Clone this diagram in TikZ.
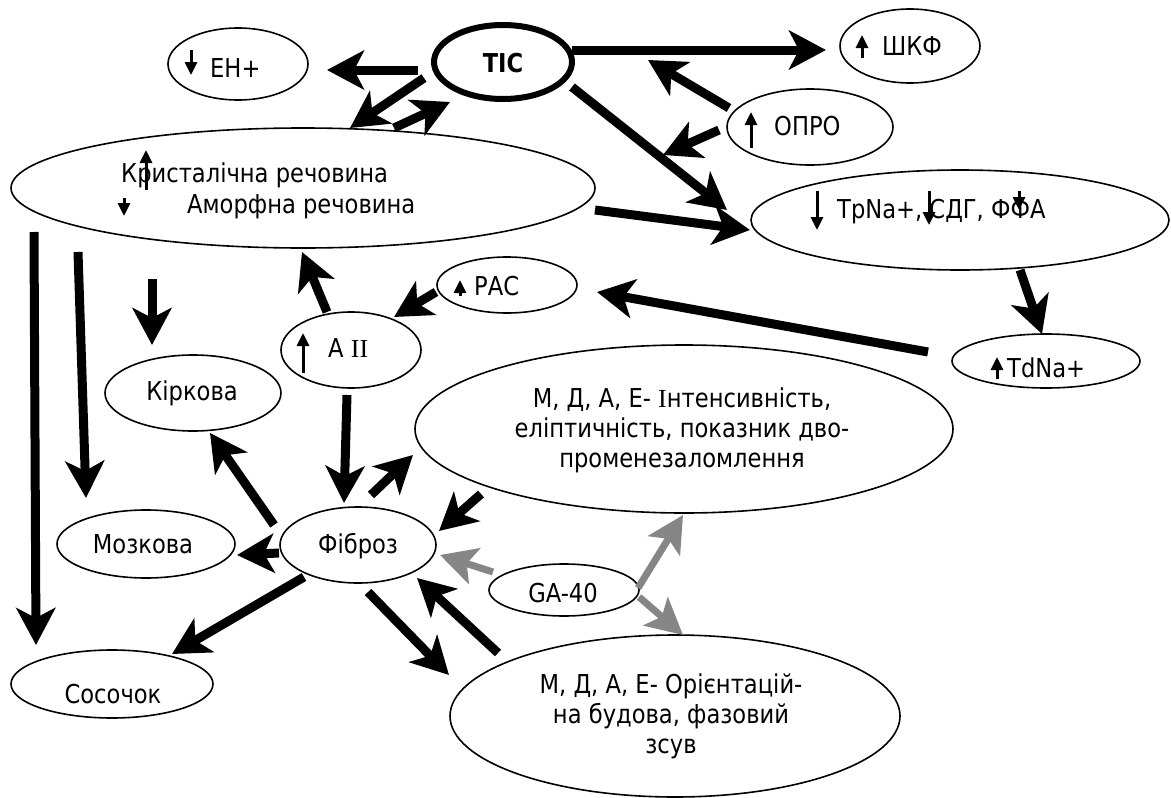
\documentclass[tikz,border=0pt]{standalone}
\usepackage{fontspec}
\setmainfont{DejaVu Sans}[FakeStretch=0.87]
\newfontfamily\romfont{Liberation Serif}
\usepackage{tikz}
\usetikzlibrary{arrows.meta, shapes.geometric}
\definecolor{ArrowGray}{HTML}{868686}
\newcommand{\diagfont}{\fontsize{26}{30}\selectfont}
\tikzset{
  % Oval styles
  oval/.style={ellipse, draw, line width=1.6pt, inner sep=0pt},
  keyoval/.style={oval, line width=6pt},
  % Label styles
  lbl/.style={inner sep=0pt, font=\diagfont, anchor=base west},
  clbl/.style={inner sep=0pt, font=\diagfont, anchor=base},
  mlbl/.style={inner sep=0pt, font=\diagfont, align=center},
  % Arrow styles
  arrow/.style={line width=9pt, -{Stealth[length=37pt, width=39pt, inset=10pt]}},
  grayarrow/.style={line width=7pt, ArrowGray, -{Stealth[length=36pt, width=37pt, inset=8pt]}},
  glyph/.style={line width=3pt, -{Triangle[length=13pt, width=12pt]}}
}

\begin{document}
\begin{tikzpicture}[x=1pt, y=-1pt]
  \path[fill=white, use as bounding box] (0,0) rectangle (1171,798);

  % Top row
  \node[keyoval, minimum width=138pt, minimum height=74pt] (tic) at (503,62) {};
  \node[oval, minimum width=140pt, minimum height=72pt] (eh) at (238,64) {};
  \node[oval, minimum width=140pt, minimum height=74pt] (shkf) at (910,46) {};
  \node[oval, minimum width=166pt, minimum height=76pt] (opro) at (810,127) {};

  % Tissue and transport
  \node[oval, minimum width=584pt, minimum height=120pt] (kryst) at (303,188) {};
  \node[oval, minimum width=418pt, minimum height=100pt] (trna) at (960,220) {};
  \node[oval, minimum width=188pt, minimum height=54pt] (tdna) at (1046,361) {};
  \node[oval, minimum width=140pt, minimum height=56pt] (ras) at (507,285) {};
  \node[oval, minimum width=140pt, minimum height=76pt] (aii) at (351,350) {};

  % Kidney zones
  \node[oval, minimum width=176pt, minimum height=76pt] (kirk) at (193,393) {};
  \node[oval, minimum width=178pt, minimum height=68pt] (mozk) at (146,544) {};
  \node[oval, minimum width=202pt, minimum height=68pt] (sos) at (112,684) {};
  \node[oval, minimum width=156pt, minimum height=76pt] (fibr) at (358,545) {};

  % Polarimetry
  \node[oval, minimum width=538pt, minimum height=168pt] (int) at (684,429) {};
  \node[oval, minimum width=150pt, minimum height=52pt] (ga) at (564,590) {};
  \node[oval, minimum width=450pt, minimum height=162pt] (orient) at (675,716) {};

  % Labels
  \node[clbl, font=\diagfont\bfseries] (tic-t) at (503,72) {ТІС};
  \node[lbl] (eh-t) at (210,77) {ЕН+};
  \node[lbl] (shkf-t) at (882,55) {ШКФ};
  \node[lbl] (opro-t) at (774,135) {ОПРО};
  \node[lbl] (kryst-t1) at (121,182) {Кристалічна речовина};
  \node[lbl] (kryst-t2) at (187,213) {Аморфна речовина};
  \node[lbl] (trna-t) at (837,218) {ТрNa+, СДГ, ФФА};
  \node[lbl] (tdna-t) at (1007,377) {TdNa+};
  \node[lbl] (ras-t) at (474,295) {РАС};
  \node[lbl] (aii-t) at (328,357) {А {\romfont ІІ}};
  \node[clbl] (kirk-t) at (192,400) {Кіркова};
  \node[clbl] (mozk-t) at (143,553) {Мозкова};
  \node[clbl] (fibr-t) at (358,553) {Фіброз};
  \node[clbl] (sos-t) at (113,703) {Сосочок};
  \node[clbl] (ga-t) at (563,602) {GA-40};
  \node[mlbl] (int-t) at (682,430) {М, Д, А, Е- {\romfont І}нтенсивність,\\еліптичність, показник дво-\\променезаломлення};
  \node[mlbl] (orient-t) at (671,716) {М, Д, А, Е- Орієнтацій-\\на будова, фазовий\\зсув};

  % Up and down marks
  \draw[glyph] ([shift={(-47,-14)}]eh.center) -- ++(0,25);
  \draw[glyph] ([shift={(-48,12)}]shkf.center) -- ++(0,-23);
  \draw[glyph] ([shift={(-59,21)}]opro.center) -- ++(0,-36);
  \draw[glyph] ([shift={(-157,2)}]kryst.center) -- ++(0,-40);
  \draw[glyph] ([shift={(-179,10)}]kryst.center) -- ++(0,18);
  \draw[glyph] ([shift={(-143,-29)}]trna.center) -- ++(0,39);
  \draw[glyph] ([shift={(-31,-29)}]trna.center) -- ++(0,34);
  \draw[glyph] ([shift={(59,-29)}]trna.center) -- ++(0,19);
  \draw[glyph] ([shift={(-49,18)}]tdna.center) -- ++(0,-22);
  \draw[glyph] ([shift={(-47,11)}]ras.center) -- ++(0,-16);
  \draw[glyph] ([shift={(-48,23)}]aii.center) -- ++(0,-40);

  % TIC links
  \draw[arrow] ([shift={(-85,8)}]tic.center) -- ([shift={(89,6)}]eh.center);
  \draw[arrow] ([shift={(-79,16)}]tic.center) -- ([shift={(47,-60)}]kryst.center);
  \draw[arrow] ([shift={(91,-60)}]kryst.center) -- ([shift={(-53,40)}]tic.center);
  \draw[arrow] ([shift={(69,-12)}]tic.center) -- ([shift={(-84,4)}]shkf.center);
  \draw[arrow] ([shift={(69,25)}]tic.center) -- ([shift={(-233,-10)}]trna.center);

  % OPRO acts on the TIC arrows
  \coordinate (toShkf) at (648,60);
  \coordinate (toTrna) at (663,155);
  \draw[arrow] ([shift={(-81,-19)}]opro.center) -- (toShkf);
  \draw[arrow] ([shift={(-91,3)}]opro.center) -- (toTrna);

  % Right side loop
  \draw[arrow] ([shift={(292,22)}]kryst.center) -- ([shift={(-210,10)}]trna.center);
  \draw[arrow] ([shift={(60,50)}]trna.center) -- ([shift={(-4,-27)}]tdna.center);
  \draw[arrow] ([shift={(-118,-9)}]tdna.center) -- ([shift={(90,7)}]ras.center);
  \draw[arrow] ([shift={(-71,7)}]ras.center) -- ([shift={(43,-33)}]aii.center);
  \draw[arrow] ([shift={(-24,-38)}]aii.center) -- ([shift={(-1,64)}]kryst.center);

  % Left side
  \draw[arrow] ([shift={(-151,91)}]kryst.center) -- ([shift={(-41,-48)}]kirk.center);
  \draw[arrow] ([shift={(-225,64)}]kryst.center) -- ([shift={(-60,-46)}]mozk.center);
  \draw[arrow] ([shift={(-269,44)}]kryst.center) -- ([shift={(-76,-39)}]sos.center);

  % Fibrosis
  \draw[arrow] ([shift={(-4,45)}]aii.center) -- ([shift={(-14,-42)}]fibr.center);
  \draw[arrow] ([shift={(13,-50)}]fibr.center) -- ([shift={(-271,26)}]int.center);
  \draw[arrow] ([shift={(-203,65)}]int.center) -- ([shift={(81,-14)}]fibr.center);
  \draw[arrow] ([shift={(-84,-20)}]fibr.center) -- ([shift={(17,40)}]kirk.center);
  \draw[arrow] ([shift={(-79,8)}]fibr.center) -- ([shift={(91,11)}]mozk.center);
  \draw[arrow] ([shift={(-54,32)}]fibr.center) -- ([shift={(60,-30)}]sos.center);
  \draw[arrow] ([shift={(10,47)}]fibr.center) -- ([shift={(-226,-41)}]orient.center);
  \draw[arrow] ([shift={(-177,-63)}]orient.center) -- ([shift={(59,33)}]fibr.center);

  % GA-40
  \draw[grayarrow] ([shift={(-71,-18)}]ga.center) -- ([shift={(82,10)}]fibr.center);
  \draw[grayarrow] ([shift={(74,-2)}]ga.center) -- ([shift={(-1,86)}]int.center);
  \draw[grayarrow] ([shift={(75,7)}]ga.center) -- ([shift={(8,-81)}]orient.center);
\end{tikzpicture}
\end{document}
